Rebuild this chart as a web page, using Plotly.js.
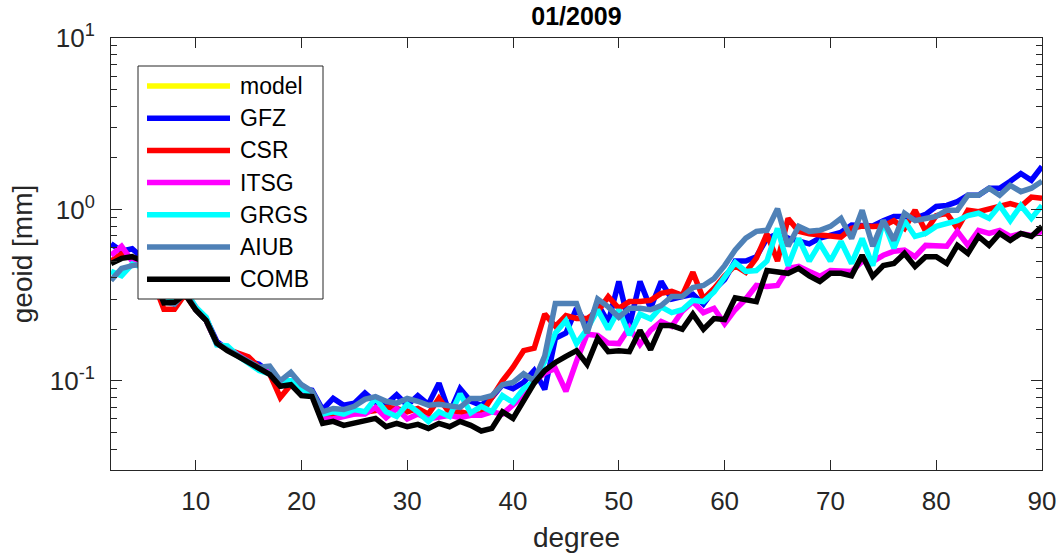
<!DOCTYPE html>
<html>
<head>
<meta charset="utf-8">
<script src="https://cdn.plot.ly/plotly-3.0.1.min.js"></script>
<style>
  html, body { margin: 0; padding: 0; background: #ffffff; }
  #chart { width: 1056px; height: 556px; }
</style>
</head>
<body>
<div id="chart"></div>
<script>
// spherical harmonic degree 2..90
const degrees = [];
for (let n = 2; n <= 90; n++) degrees.push(n);

const seriesNames = ["model", "GFZ", "CSR", "ITSG", "GRGS", "AIUB", "COMB"];
const seriesColors = ["#FFFF00", "#0000FF", "#FF0000", "#FF00FF", "#00FFFF", "#4F81B7", "#000000"];

// model: not visible in the plotted range (legend only)
const model = degrees.map(() => null);

const gfz = [0.63,0.57,0.59,0.52,0.42,0.29,0.30,0.33,0.265,0.23,
  0.17,0.152,0.14,0.13,0.125,0.112,0.095,0.1,0.09,0.088,
  0.068,0.079,0.072,0.074,0.085,0.075,0.073,0.083,0.072,0.082,
  0.073,0.097,0.065,0.090,0.076,0.072,0.08,0.095,0.09,0.098,
  0.115,0.089,0.177,0.19,0.265,0.21,0.28,0.22,0.38,0.21,
  0.38,0.265,0.38,0.30,0.31,0.32,0.28,0.34,0.39,0.50,
  0.50,0.53,0.677,0.72,0.68,0.65,0.63,0.68,0.705,0.735,
  0.81,0.80,0.80,0.86,0.91,0.91,0.886,0.935,1.04,1.055,
  1.11,1.21,1.21,1.33,1.33,1.46,1.62,1.48,1.78];

const csr = [0.50,0.55,0.52,0.50,0.38,0.262,0.262,0.32,0.26,0.225,
  0.165,0.153,0.145,0.138,0.12,0.11,0.08,0.095,0.087,0.085,
  0.062,0.064,0.063,0.064,0.065,0.067,0.07,0.069,0.066,0.069,
  0.064,0.079,0.065,0.066,0.064,0.064,0.08,0.10,0.12,0.15,
  0.155,0.245,0.208,0.24,0.231,0.231,0.254,0.31,0.265,0.29,
  0.29,0.295,0.324,0.333,0.315,0.43,0.30,0.346,0.41,0.47,
  0.43,0.52,0.72,0.50,0.886,0.745,0.72,0.71,0.69,0.69,
  0.775,0.80,0.796,0.80,0.86,0.775,0.99,0.745,0.92,0.95,
  0.775,0.99,0.97,1.01,1.04,1.08,1.04,1.18,1.16];

const itsg = [0.54,0.61,0.50,0.48,0.40,0.29,0.29,0.33,0.27,0.225,
  0.165,0.155,0.142,0.13,0.118,0.115,0.098,0.1,0.088,0.082,
  0.06,0.06,0.062,0.064,0.064,0.07,0.061,0.069,0.06,0.064,
  0.06,0.062,0.063,0.061,0.063,0.063,0.066,0.064,0.072,0.082,
  0.099,0.111,0.118,0.087,0.13,0.187,0.184,0.166,0.165,0.205,
  0.163,0.197,0.222,0.208,0.255,0.29,0.25,0.265,0.215,0.26,
  0.30,0.36,0.355,0.36,0.453,0.465,0.435,0.407,0.44,0.44,
  0.435,0.497,0.497,0.54,0.57,0.58,0.53,0.617,0.617,0.61,
  0.745,0.617,0.755,0.724,0.755,0.696,0.724,0.705,0.745];

const grgs = [0.435,0.41,0.48,0.46,0.40,0.30,0.29,0.34,0.27,0.235,
  0.162,0.16,0.14,0.128,0.115,0.11,0.1,0.1,0.09,0.083,
  0.064,0.066,0.064,0.068,0.066,0.079,0.066,0.062,0.073,0.066,
  0.058,0.066,0.062,0.084,0.065,0.071,0.066,0.082,0.075,0.09,
  0.1,0.13,0.19,0.225,0.165,0.2,0.26,0.2,0.26,0.185,
  0.245,0.23,0.27,0.25,0.26,0.295,0.29,0.33,0.40,0.49,
  0.435,0.44,0.50,0.775,0.47,0.677,0.50,0.633,0.50,0.65,
  0.484,0.677,0.47,0.86,0.593,0.86,0.696,0.724,0.796,0.82,
  0.86,0.92,0.95,0.886,1.055,0.86,1.055,0.886,1.055];

const aiub = [0.385,0.453,0.47,0.48,0.41,0.29,0.28,0.33,0.26,0.225,
  0.165,0.152,0.14,0.13,0.12,0.122,0.1,0.112,0.095,0.087,
  0.066,0.069,0.068,0.071,0.078,0.081,0.076,0.074,0.079,0.076,
  0.072,0.073,0.071,0.07,0.079,0.079,0.082,0.095,0.098,0.11,
  0.10,0.14,0.283,0.285,0.283,0.19,0.30,0.27,0.235,0.265,
  0.265,0.26,0.275,0.31,0.31,0.35,0.36,0.395,0.47,0.58,
  0.68,0.745,0.755,1.01,0.61,0.796,0.745,0.755,0.796,0.886,
  0.677,0.99,0.61,0.86,0.66,0.95,0.86,0.886,0.91,0.99,
  0.99,1.21,1.21,1.33,1.21,1.38,1.27,1.33,1.46];

const comb = [0.484,0.518,0.53,0.50,0.40,0.285,0.287,0.32,0.26,0.225,
  0.166,0.150,0.139,0.128,0.118,0.109,0.093,0.095,0.082,0.081,
  0.0565,0.058,0.055,0.0565,0.059,0.0604,0.054,0.0565,0.054,0.0557,
  0.0528,0.0565,0.054,0.058,0.055,0.051,0.0528,0.066,0.0604,0.077,
  0.097,0.115,0.128,0.139,0.150,0.125,0.177,0.148,0.150,0.148,
  0.197,0.152,0.21,0.21,0.20,0.245,0.20,0.231,0.228,0.305,
  0.298,0.29,0.44,0.435,0.424,0.453,0.41,0.38,0.424,0.424,
  0.41,0.54,0.407,0.47,0.484,0.554,0.465,0.53,0.53,0.484,
  0.617,0.554,0.696,0.617,0.724,0.66,0.724,0.696,0.796];

const seriesValues = [model, gfz, csr, itsg, grgs, aiub, comb];

const xTickVals = [10, 20, 30, 40, 50, 60, 70, 80, 90];
const yTickVals = [0.1, 1, 10];
const yTickText = ["10<sup>-1</sup>", "10<sup>0</sup>", "10<sup>1</sup>"];

const FONT = "Liberation Sans, Arial, Helvetica, sans-serif";
const TXT = "#262626";

const traces = seriesNames.map((name, i) => ({
  type: "scatter",
  mode: "lines",
  x: degrees,
  y: seriesValues[i],
  name: name,
  showlegend: false,
  line: { color: seriesColors[i], width: 5.5 },
  hoverinfo: "x+y+name"
}));

// plot area geometry (pixels) for a hand-built MATLAB-style legend
const L = 111, R = 14, T = 38, B = 86;
const W = 1056 - L - R, H = 556 - T - B;
const px = v => (v - L) / W;
const py = v => 1 - (v - T) / H;

const shapes = [{
  type: "rect", xref: "paper", yref: "paper",
  x0: px(138), x1: px(323), y0: py(299), y1: py(66),
  line: { color: TXT, width: 1 }, fillcolor: "#ffffff", layer: "above"
}];
const annotations = [];
seriesNames.forEach((name, i) => {
  const yy = 86 + i * 32.2;
  shapes.push({
    type: "line", xref: "paper", yref: "paper",
    x0: px(147), x1: px(230), y0: py(yy), y1: py(yy),
    line: { color: seriesColors[i], width: 5.5 }, layer: "above"
  });
  annotations.push({
    xref: "paper", yref: "paper", x: px(238), y: py(yy),
    xanchor: "left", yanchor: "middle", showarrow: false,
    text: name, font: { family: FONT, size: 23, color: "#000000" }
  });
});

const layout = {
  width: 1056, height: 556,
  margin: { l: L, r: R, t: T, b: B, pad: 0 },
  paper_bgcolor: "#ffffff", plot_bgcolor: "#ffffff",
  font: { family: FONT, color: TXT },
  showlegend: false,
  title: {
    text: "<b>01/2009</b>",
    x: px(576.5), xref: "paper", xanchor: "center",
    y: 1 - 16 / 556, yref: "container", yanchor: "middle",
    font: { family: FONT, size: 25, color: "#000000" }
  },
  xaxis: {
    range: [2, 90], tickvals: xTickVals,
    ticks: "inside", ticklen: 10, tickwidth: 1, tickcolor: TXT,
    showline: true, linecolor: TXT, linewidth: 1, mirror: "ticks",
    showgrid: false, zeroline: false,
    tickfont: { family: FONT, size: 26, color: TXT },
    ticklabelstandoff: 8,
    ticklabeloverflow: "allow",
    title: { text: "degree", font: { family: FONT, size: 28, color: TXT }, standoff: 12 }
  },
  yaxis: {
    type: "log", range: [-1.52, 1],
    tickvals: yTickVals, ticktext: yTickText,
    ticks: "inside", ticklen: 11, tickwidth: 1, tickcolor: TXT,
    minor: { dtick: "D1", ticks: "inside", ticklen: 6, tickcolor: TXT, showgrid: false },
    showline: true, linecolor: TXT, linewidth: 1, mirror: "ticks",
    showgrid: false, zeroline: false,
    tickfont: { family: FONT, size: 26, color: TXT },
    ticklabelstandoff: 10,
    title: { text: "geoid [mm]", font: { family: FONT, size: 28, color: TXT }, standoff: 8 }
  },
  shapes: shapes,
  annotations: annotations
};

Plotly.newPlot("chart", traces, layout, { displayModeBar: false, staticPlot: true });
</script>
</body>
</html>
